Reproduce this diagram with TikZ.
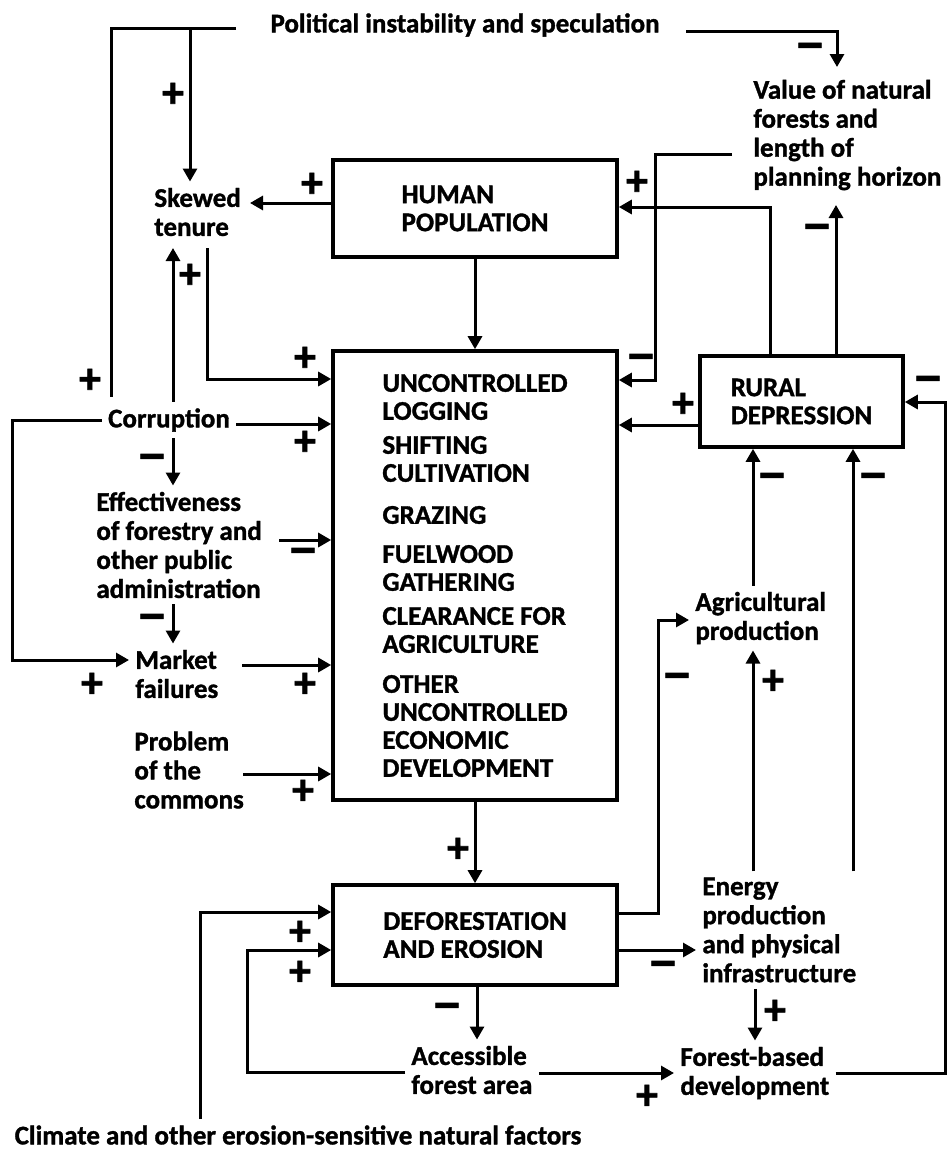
\documentclass[tikz,border=0pt]{standalone}
\usepackage{graphicx}
\usepackage{fontspec}
\setmainfont{Carlito}[BoldFeatures={FakeBold=1.2}]
\usetikzlibrary{arrows.meta}
\newcommand\dtxt{\fontsize{13.5}{14.5}\selectfont\bfseries}
\newcommand\dbox{\fontsize{13.5}{14}\selectfont\bfseries}
\newcommand\dsgn{\fontsize{22}{22}\selectfont\bfseries}
\newcommand\dminus{\scalebox{1.45}[1.25]{–}}
\begin{document}
\begin{tikzpicture}[x=0.5pt,y=-0.5pt,
  ln/.style={line width=1.5pt},
  arr/.style={line width=1.5pt,-{Triangle[length=6.5pt,width=7pt]}},
  box/.style={draw,line width=1.8pt,align=left,inner sep=0pt,font=\dbox},
  lbl/.style={align=left,inner sep=3pt,font=\dtxt},
  sg/.style={font=\dsgn,inner sep=0pt}]
\useasboundingbox (0,0) rectangle (948,1151);

% ---- text nodes
\node[lbl] (pol) at (465,25) {Political instability and speculation};
\node[lbl,anchor=west] (val) at (747,135) {Value of natural\\forests and\\length of\\planning horizon};
\node[lbl,anchor=west] (skew) at (148,212) {Skewed\\tenure};
\node[lbl] (corr) at (169,420) {Corruption};
\node[lbl,anchor=west] (eff) at (90,545) {Effectiveness\\of forestry and\\other public\\administration};
\node[lbl,anchor=west] (mkt) at (129,674) {Market\\failures};
\node[lbl,anchor=west] (prob) at (128,770) {Problem\\of the\\commons};
\node[lbl] (clim) at (298,1135) {Climate and other erosion-sensitive natural factors};
\node[lbl,anchor=west] (acc) at (405,1070) {Accessible\\forest area};
\node[lbl,anchor=west] (fbd) at (674,1073) {Forest-based\\development};
\node[lbl,anchor=west] (ener) at (696,930) {Energy\\production\\and physical\\infrastructure};
\node[lbl,anchor=west] (agr) at (689,618) {Agricultural\\production};

% ---- boxes
\node[box,minimum width=142pt,minimum height=48.5pt] (hp) at (475,208.5) {HUMAN\\POPULATION};
\node[box,minimum width=142pt,minimum height=224.5pt] (big) at (475,575.5)
  {UNCONTROLLED\\LOGGING\\[3pt]SHIFTING\\CULTIVATION\\[7pt]GRAZING\\[5.5pt]FUELWOOD\\GATHERING\\[3pt]CLEARANCE FOR\\AGRICULTURE\\[6pt]OTHER\\UNCONTROLLED\\ECONOMIC\\DEVELOPMENT};
\node[box,minimum width=101.5pt,minimum height=45.5pt] (rd) at (801.5,401.5) {RURAL\\DEPRESSION};
\node[box,minimum width=142pt,minimum height=50pt] (def) at (475,935) {DEFORESTATION\\AND EROSION};

% ---- free ends
\coordinate (polL) at (236,28);
\coordinate (polR) at (686,31);
\coordinate (valL) at (732,154);

% ---- connectors
\draw[ln] (polL) -- (111,28) -- (111,397);
\draw[arr] (190,28) -- (skew.north -| 190,0);
\draw[arr] (polR) -- (837,31) -- (837,67);
\draw[arr] (hp.west |- 0,203) -- (250,203);
\draw[arr] (hp.south) -- (big.north);
\draw[arr] (rd.north -| 770,0) -- (770,207) -- (hp.east |- 0,207);
\draw[arr] (valL) -- (655,154) -- (655,380) -- (big.east |- 0,380);
\draw[arr] (rd.north -| 836,0) -- (836,205);
\draw[arr] (207,248) -- (207,379) -- (big.west |- 0,379);
\draw[arr] (corr.north -| 173,0) -- (173,248);
\draw[arr] (corr.west |- 0,420) -- (12,420) -- (12,660) -- (mkt.west |- 0,660);
\draw[arr] (corr.east |- 0,424) -- (big.west |- 0,424);
\draw[arr] (corr.south -| 173,0) -- (eff.north -| 173,0);
\draw[arr] (279,540) -- (big.west |- 0,540);
\draw[arr] (eff.south -| 173,0) -- (mkt.north -| 173,0);
\draw[arr] (242,665) -- (big.west |- 0,665);
\draw[arr] (243,774) -- (big.west |- 0,774);
\draw[arr] (big.south) -- (def.north);
\draw[arr] (clim.north -| 200,0) -- (200,912) -- (def.west |- 0,912);
\draw[arr] (acc.west |- 0,1072) -- (247,1072) -- (247,950) -- (def.west |- 0,950);
\draw[arr] (def.south -| 477,0) -- (acc.north -| 477,0);
\draw[arr] (acc.east |- 0,1073) -- (fbd.west |- 0,1073);
\draw[arr] (fbd.east |- 0,1073) -- (945,1073) -- (945,402) -- (rd.east |- 0,402);
\draw[arr] (def.east |- 0,950) -- (ener.west |- 0,950);
\draw[arr] (def.east |- 0,913) -- (658,913) -- (658,620) -- (agr.west |- 0,620);
\draw[arr] (agr.north -| 753,0) -- (rd.south -| 753,0);
\draw[arr] (ener.north -| 753,0) -- (agr.south -| 753,0);
\draw[arr] (ener.north -| 853,0) -- (rd.south -| 853,0);
\draw[arr] (ener.south -| 755,0) -- (fbd.north -| 755,0);
\draw[arr] (rd.west |- 0,425) -- (big.east |- 0,425);

% ---- signs
\foreach \n/\x/\y in {p1/173/95, p2/312/185, p3/637/183, p4/190/276, p5/305/359, p6/90/381,
  p7/683/405, p8/305/443, p9/92/685, p10/305/685, p11/773/682, p12/303/792, p13/458/850,
  p14/300/933, p15/300/973, p16/775/1012, p17/647/1097}
  \node[sg] (\n) at (\x,\y) {+};
\foreach \n/\x/\y in {m1/810/52, m2/817/233, m3/641/363, m4/928/385, m5/152/463, m6/303/557,
  m7/152/623, m8/772/482, m9/873/482, m10/677/682, m11/663/970, m12/447/1012}
  \node[sg] (\n) at (\x,\y) {\dminus};
\end{tikzpicture}
\end{document}
